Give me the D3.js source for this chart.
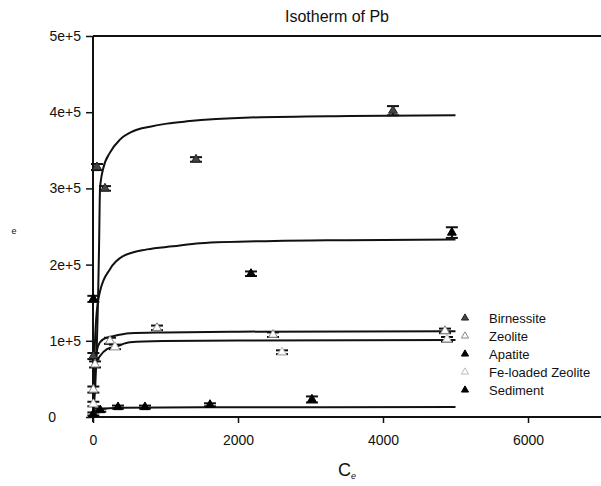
<!DOCTYPE html>
<html>
<head>
<meta charset="utf-8">
<script src="https://cdnjs.cloudflare.com/ajax/libs/d3/7.8.5/d3.min.js"></script>
<style>
  body { margin: 0; background: #fff; }
  text { font-family: Arial, "Liberation Sans", sans-serif; fill: #111; }
</style>
</head>
<body>
<div id="chart"></div>
<script>
// series names, in legend order
var seriesNames = ["Birnessite", "Zeolite", "Apatite", "Fe-loaded Zeolite", "Sediment"];
var xTicks = [0, 2000, 4000, 6000];
var yTicks = [0, 100000, 200000, 300000, 400000, 500000];

// fitted curves as [Ce, qe]
var birnessiteFit = [[0,0],[40,60000],[69,153000],[83,220000],[97,300000],[138,325000],[234,347000],[372,364000],[552,375000],[786,381000],[1020,385000],[1297,388000],[2166,393000],[3545,395000],[5000,396000]];
var zeoliteFit = [[0,0],[15,40000],[40,75000],[69,93000],[138,102000],[276,106000],[510,110000],[1000,111000],[2000,112000],[5000,112500]];
var apatiteFit = [[0,0],[20,80000],[45,130000],[97,165000],[234,194000],[414,211000],[745,220000],[1103,224000],[1476,228000],[2500,231000],[3500,232000],[5000,233000]];
var feZeoliteFit = [[0,0],[10,30000],[28,67000],[97,80000],[193,89000],[331,93000],[510,98000],[966,99600],[2000,100500],[5000,101000]];
var sedimentFit = [[0,0],[14,5000],[70,10000],[400,12000],[1500,12800],[5000,13000]];

// measured points as [Ce, qe, error]
var birnessitePts = [[5,80000,4000],[55,328000,4000],[165,300000,3000],[1421,338000,3000],[4138,402000,6000]];
var zeolitePts = [[5,36000,4000],[28,69000,4000],[234,100000,4000],[883,117000,3000],[2483,108000,3000],[4855,113000,3000]];
var apatitePts = [[5,155000,4000],[2179,188000,3000],[4950,242000,7000]];
var feZeolitePts = [[5,17000,3000],[303,92000,3000],[2607,85000,2500],[4883,102000,3000]];
var sedimentPts = [[5,4000,2000],[100,9000,2000],[345,13000,2000],[717,13000,2000],[1614,16000,2000],[3020,23000,4000]];

var markFill = ["#444", "#fff", "#000", "#fff", "#000"];
var markStroke = ["#222", "#888", "#000", "#bbb", "#000"];

var fits = [birnessiteFit, zeoliteFit, apatiteFit, feZeoliteFit, sedimentFit];
var pts = [birnessitePts, zeolitePts, apatitePts, feZeolitePts, sedimentPts];

var width = 601, height = 486;

var svg = d3.select("#chart").append("svg")
  .attr("width", width)
  .attr("height", height);

var x = d3.scaleLinear().domain([0, 7000]).range([93, 600.5]);
var y = d3.scaleLinear().domain([0, 500000]).range([417, 36]);

// frame top
svg.append("line")
  .attr("x1", x(0)).attr("x2", width)
  .attr("y1", y(500000)).attr("y2", y(500000))
  .attr("stroke", "#111").attr("stroke-width", 2);

var xAxis = svg.append("g")
  .attr("transform", "translate(0," + y(0) + ")")
  .call(d3.axisBottom(x).tickValues(xTicks).tickSize(6).tickPadding(12).tickFormat(d3.format("d")));

var yAxis = svg.append("g")
  .attr("transform", "translate(" + x(0) + ",0)")
  .call(d3.axisLeft(y).tickValues(yTicks).tickSize(7).tickPadding(5)
    .tickFormat(function(d){ return d === 0 ? "0" : (d / 100000) + "e+5"; }));

[xAxis, yAxis].forEach(function(a){
  a.select(".domain").attr("stroke", "#111").attr("stroke-width", 2);
  a.selectAll(".tick line").attr("stroke", "#111").attr("stroke-width", 1.5);
  a.selectAll(".tick text").style("font-size", "14px").attr("fill", "#111");
});
xAxis.select(".domain").attr("d", "M" + (x(0) - 5) + ",0H" + width);
yAxis.select(".domain").attr("d", "M0," + y(500000) + "V" + (y(0) + 5));
// the zero label sits further left in the original
yAxis.selectAll(".tick text").filter(function(d){ return d === 0; }).attr("x", -37);

var line = d3.line()
  .x(function(d){ return x(d[0]); })
  .y(function(d){ return y(d[1]); })
  .curve(d3.curveMonotoneX);

svg.append("g").selectAll("path")
  .data(fits)
  .enter().append("path")
  .attr("d", line)
  .attr("fill", "none")
  .attr("stroke", "#111")
  .attr("stroke-width", 2);

var tri = d3.symbol().type(d3.symbolTriangle).size(34);

pts.forEach(function(set, i){
  var g = svg.append("g");
  var pt = g.selectAll("g")
    .data(set)
    .enter().append("g")
    .attr("transform", function(d){ return "translate(" + x(d[0]) + "," + y(d[1]) + ")"; });

  pt.append("line")
    .attr("y1", function(d){ return y(d[1] + d[2]) - y(d[1]); })
    .attr("y2", function(d){ return y(d[1] - d[2]) - y(d[1]); })
    .attr("stroke", "#111").attr("stroke-width", 2);
  pt.append("line")
    .attr("x1", -6).attr("x2", 6)
    .attr("y1", function(d){ return y(d[1] + d[2]) - y(d[1]); })
    .attr("y2", function(d){ return y(d[1] + d[2]) - y(d[1]); })
    .attr("stroke", "#111").attr("stroke-width", 2);
  pt.append("line")
    .attr("x1", -6).attr("x2", 6)
    .attr("y1", function(d){ return y(d[1] - d[2]) - y(d[1]); })
    .attr("y2", function(d){ return y(d[1] - d[2]) - y(d[1]); })
    .attr("stroke", "#111").attr("stroke-width", 2);
  pt.append("path")
    .attr("d", tri)
    .attr("fill", markFill[i])
    .attr("stroke", markStroke[i])
    .attr("stroke-width", 1);
});

// legend
var legend = svg.append("g")
  .selectAll("g")
  .data(seriesNames)
  .enter().append("g")
  .attr("transform", function(d, i){ return "translate(465," + (318 + i * 18) + ")"; });

legend.append("path")
  .attr("d", d3.symbol().type(d3.symbolTriangle).size(22))
  .attr("fill", function(d, i){ return i === 1 || i === 3 ? "#fff" : markFill[i]; })
  .attr("stroke", function(d, i){ return markStroke[i]; });

legend.append("text")
  .attr("x", 24)
  .attr("dy", "0.35em")
  .style("font-size", "13px")
  .text(function(d){ return d; });

// titles
svg.append("text")
  .attr("x", 337).attr("y", 22)
  .attr("text-anchor", "middle")
  .style("font-size", "16px")
  .text("Isotherm of Pb");

var xl = svg.append("text")
  .attr("x", 338).attr("y", 476)
  .style("font-size", "18px");
xl.append("tspan").text("C");
xl.append("tspan").attr("dy", 3).style("font-size", "9px").style("font-style", "italic").text("e");

svg.append("text")
  .attr("x", 14).attr("y", 234)
  .attr("text-anchor", "middle")
  .style("font-size", "9px")
  .text("e");
</script>
</body>
</html>
